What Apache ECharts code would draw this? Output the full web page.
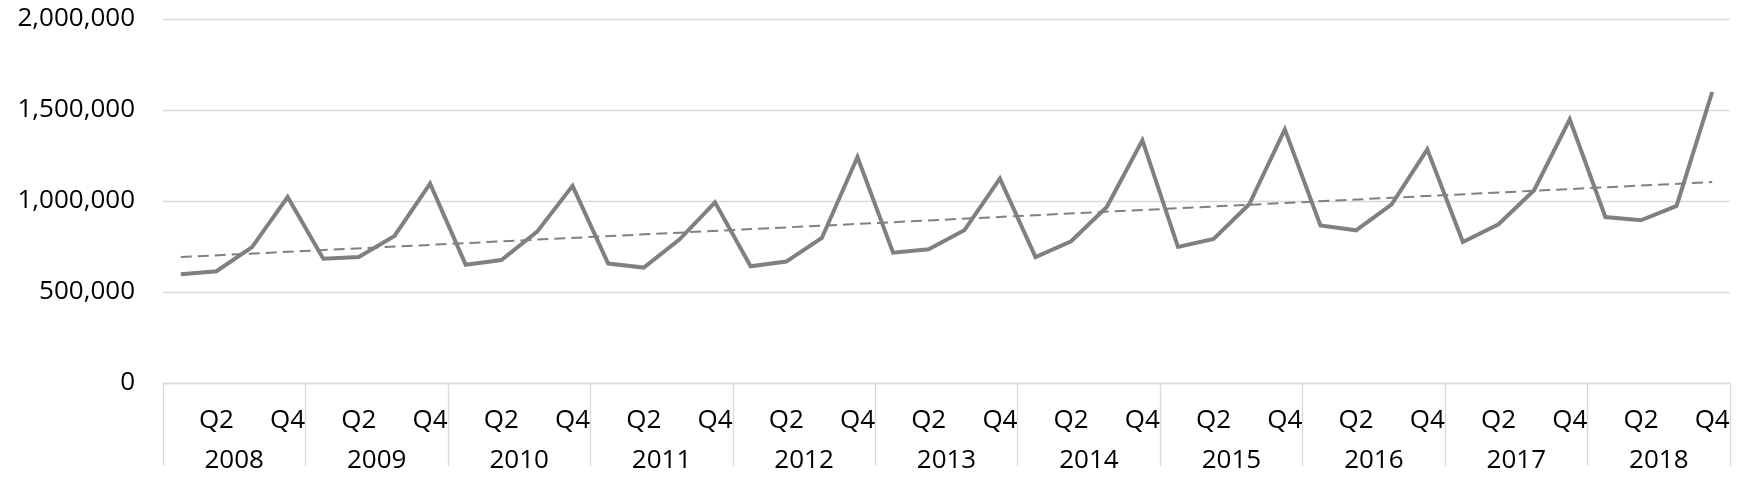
<!DOCTYPE html>
<html lang="en">
<head>
    <meta charset="UTF-8">
    <title>Quarterly values 2008-2018</title>
    <script src="https://cdn.jsdelivr.net/npm/echarts@6/dist/echarts.min.js"></script>
    <style>
        html, body { margin: 0; padding: 0; background: #fff; }
        #chart { width: 1739px; height: 479px; }
    </style>
</head>
<body>
    <div id="chart"></div>

    <script>
        // categories
        var years = ['2008', '2009', '2010', '2011', '2012', '2013', '2014', '2015', '2016', '2017', '2018'];
        var quarterNames = ['Q1', 'Q2', 'Q3', 'Q4'];

        // values per quarter
        var values = [
            597000, 614000, 747000, 1022000,
            683000, 692000, 808000, 1095000,
            650000, 676000, 830000, 1083000,
            656000, 634000, 788000, 993000,
            641000, 667000, 797000, 1242000,
            716000, 735000, 839000, 1123000,
            692000, 779000, 967000, 1334000,
            748000, 791000, 982000, 1394000,
            866000, 839000, 982000, 1284000,
            775000, 872000, 1059000, 1449000,
            912000, 894000, 973000, 1599000
        ];

        // linear trend line: value at first and last quarter
        var trendEnds = [692000, 1104000];

        // y axis ticks
        var yTicks = [0, 500000, 1000000, 1500000, 2000000];

        var quarters = [];
        years.forEach(function (y) {
            quarterNames.forEach(function (q) { quarters.push(q); });
        });
        var trend = quarters.map(function (q, i) {
            if (i === 0) return trendEnds[0];
            if (i === quarters.length - 1) return trendEnds[1];
            return null;
        });

        var font = '"Open Sans", "Liberation Sans", sans-serif';
        var lightGrey = '#d9d9d9';
        var lineGrey = '#808080';

        var chart = echarts.init(document.getElementById('chart'));
        var option = {
            animation: false,
            grid: {
                left: 163,
                right: 9,
                top: 19,
                bottom: 96,
                containLabel: false,
                outerBoundsMode: 'none'
            },
            xAxis: [
                {
                    type: 'category',
                    data: quarters,
                    position: 'bottom',
                    boundaryGap: true,
                    axisLine: { show: true, lineStyle: { color: lightGrey, width: 1.3 } },
                    axisTick: { show: false },
                    axisLabel: {
                        interval: function (index) { return index % 2 === 1; },
                        margin: 25,
                        color: '#000',
                        fontFamily: font,
                        fontSize: 26
                    },
                    splitLine: { show: false }
                },
                {
                    type: 'category',
                    data: years,
                    position: 'bottom',
                    boundaryGap: true,
                    axisLine: { show: false },
                    axisTick: {
                        show: true,
                        interval: 0,
                        length: 83,
                        lineStyle: { color: lightGrey, width: 1.3 }
                    },
                    axisLabel: {
                        interval: 0,
                        margin: 65,
                        color: '#000',
                        fontFamily: font,
                        fontSize: 26
                    },
                    splitLine: { show: false }
                }
            ],
            yAxis: {
                type: 'value',
                min: yTicks[0],
                max: yTicks[yTicks.length - 1],
                interval: yTicks[1] - yTicks[0],
                axisLine: { show: false },
                axisTick: { show: false },
                axisLabel: {
                    margin: 28,
                    color: '#000',
                    fontFamily: font,
                    fontSize: 26,
                    formatter: function (v) { return v.toLocaleString('en-US'); }
                },
                splitLine: { lineStyle: { color: lightGrey, width: 1.3 } }
            },
            series: [
                {
                    type: 'line',
                    xAxisIndex: 0,
                    data: values,
                    symbol: 'none',
                    lineStyle: { color: lineGrey, width: 4, join: 'miter' }
                },
                {
                    type: 'line',
                    xAxisIndex: 0,
                    data: trend,
                    connectNulls: true,
                    symbol: 'none',
                    lineStyle: { color: lineGrey, width: 2, type: [11, 6] }
                }
            ]
        };
        chart.setOption(option);
    </script>
</body>
</html>
